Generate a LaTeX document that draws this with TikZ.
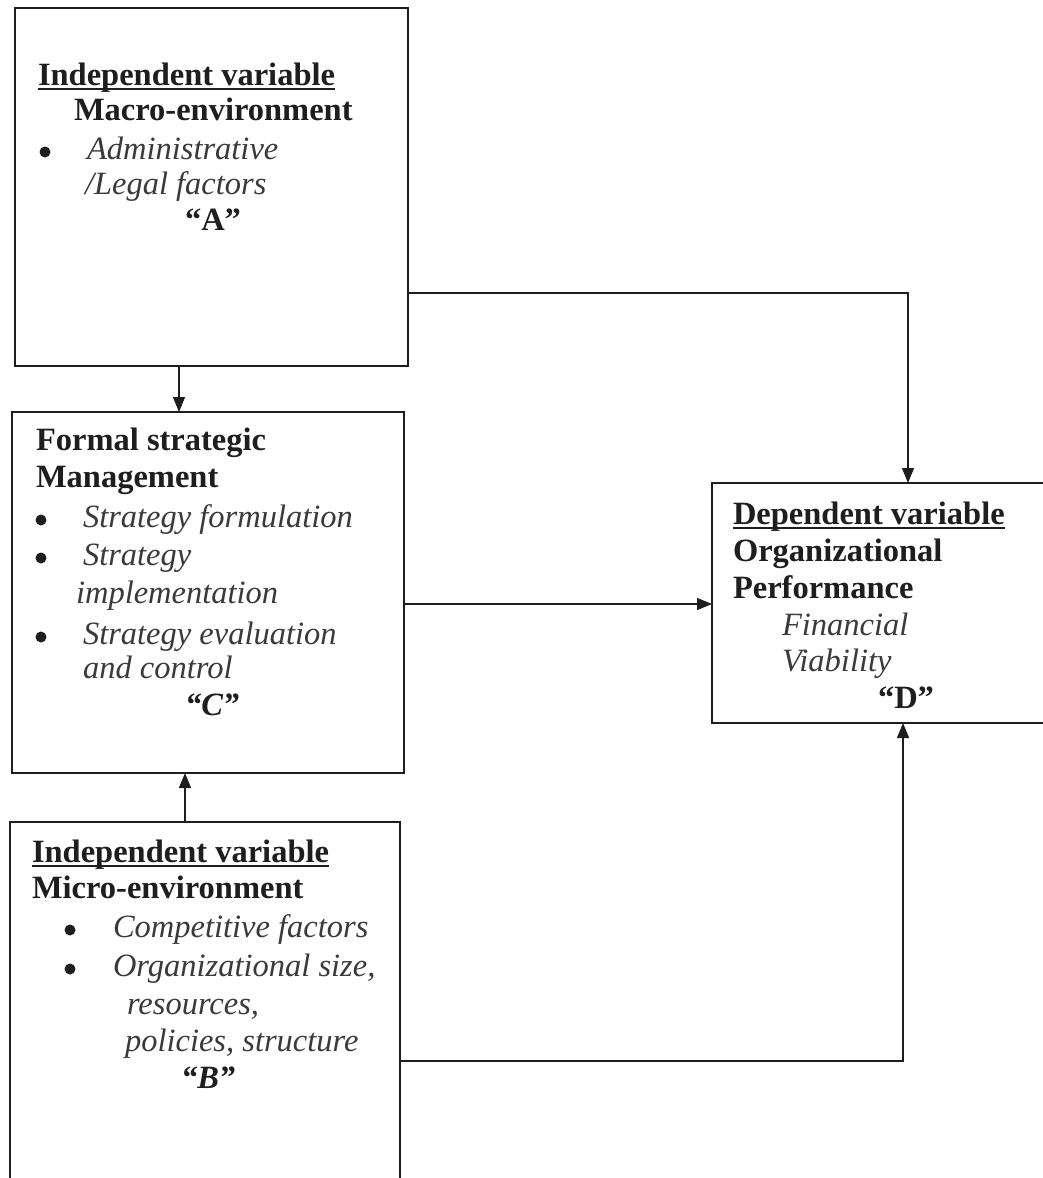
\documentclass[tikz,border=0pt]{standalone}
\usepackage{fontspec}
\setmainfont{Liberation Serif}
\usetikzlibrary{arrows.meta}
\definecolor{ink}{HTML}{1E1E1E}
\definecolor{soft}{HTML}{3A3A3A}
\newcommand\myul[1]{\setbox0\hbox{#1}\rlap{\rule[-5pt]{\wd0}{2.2pt}}#1}
\begin{document}
\begin{tikzpicture}[x=1pt,y=-1pt,
  box/.style={draw=ink,line width=1.3pt,rectangle,inner sep=0pt,outer sep=0pt,anchor=north west},
  txt/.style={anchor=base west,inner sep=0pt,outer sep=0pt,font=\fontsize{32.5}{37}\selectfont},
  hd/.style={txt,text=ink,font=\fontsize{32.5}{37}\selectfont\bfseries},
  it/.style={txt,text=soft,font=\fontsize{32.5}{37}\selectfont\itshape},
  dot/.style={circle,fill=ink,inner sep=0pt,minimum size=11pt},
  arr/.style={draw=ink,line width=1.2pt,-{Triangle[length=15pt,width=12pt]}},
  ln/.style={draw=ink,line width=1.2pt}]
\useasboundingbox (0,0) rectangle (1043,1178);
\clip (0,0) rectangle (1043,1178);
\fill[white] (0,0) rectangle (1043,1178);

% boxes
\node[box,minimum width=393pt,minimum height=358pt] (A) at (15,8) {};
\node[box,minimum width=392pt,minimum height=361pt] (C) at (12,412) {};
\node[box,minimum width=390pt,minimum height=380pt] (B) at (10,822) {};
\node[box,minimum width=360pt,minimum height=240pt] (D) at (712,483) {};

% box A text
\node[hd] (a1) at (38,85) {\myul{Independent variable}};
\node[hd] (a2) at (74,120) {Macro-environment};
\node[dot] (ab) at (45,152) {};
\node[it] (a3) at (87,159) {Administrative};
\node[it] (a4) at (85,194) {/Legal factors};
\node[hd] (a5) at (185,230) {“A”};

% box C text
\node[hd] (c1) at (36,450) {Formal strategic};
\node[hd] (c2) at (36,487) {Management};
\node[dot] (cb1) at (41,520) {};
\node[it] (c3) at (83,527) {Strategy formulation};
\node[dot] (cb2) at (41,558) {};
\node[it] (c4) at (83,565) {Strategy};
\node[it] (c5) at (76,603) {implementation};
\node[dot] (cb3) at (41,637) {};
\node[it] (c6) at (83,644) {Strategy evaluation};
\node[it] (c7) at (83,678) {and control};
\node[hd,font=\fontsize{32.5}{37}\selectfont\bfseries\itshape] (c8) at (185,715) {“C”};

% box B text
\node[hd] (b1) at (32,862) {\myul{Independent variable}};
\node[hd] (b2) at (32,898) {Micro-environment};
\node[dot] (bb1) at (70,930) {};
\node[it] (b3) at (113,937) {Competitive factors};
\node[dot] (bb2) at (70,969) {};
\node[it] (b4) at (113,976) {Organizational size,};
\node[it] (b5) at (127,1014) {resources,};
\node[it] (b6) at (125,1051) {policies, structure};
\node[hd,font=\fontsize{32.5}{37}\selectfont\bfseries\itshape] (b7) at (181,1088) {“B”};

% box D text
\node[hd] (d1) at (733,524) {\myul{Dependent variable}};
\node[hd] (d2) at (733,561) {Organizational};
\node[hd] (d3) at (733,598) {Performance};
\node[it] (d4) at (782,635) {Financial};
\node[it] (d5) at (782,671) {Viability};
\node[hd] (d6) at (878,708) {“D”};

% connector guides
\coordinate (xAC) at (179,0);
\coordinate (xBC) at (185,0);
\coordinate (yAD) at (0,293);
\coordinate (xAD) at (908,0);
\coordinate (yCD) at (0,604);
\coordinate (yBD) at (0,1061);
\coordinate (xBD) at (903,0);

% connectors
\draw[arr] (xAC |- A.south) -- (xAC |- C.north);
\draw[arr] (xBC |- B.north) -- (xBC |- C.south);
\draw[arr] (A.east |- yAD) -| (xAD |- D.north);
\draw[arr] (C.east |- yCD) -- (D.west |- yCD);
\draw[arr] (B.east |- yBD) -| (xBD |- D.south);
\end{tikzpicture}
\end{document}
